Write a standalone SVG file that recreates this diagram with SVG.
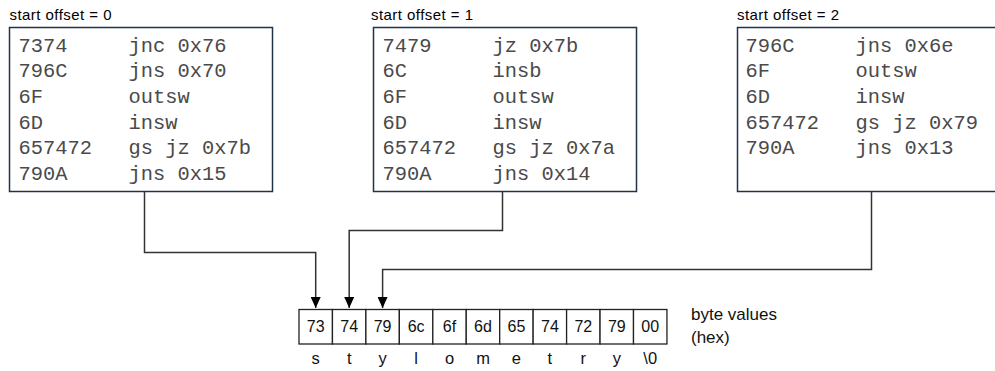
<svg xmlns="http://www.w3.org/2000/svg" width="995" height="371" viewBox="0 0 995 371">
  <style>
    .caption { font-family: "Liberation Sans", Arial, sans-serif; font-size: 15px; fill: #000; }
    .box { fill: #fff; stroke: #1f3547; stroke-width: 1.5; }
    .asm { font-family: "Liberation Mono", "Courier New", monospace; font-size: 20.4px; fill: #4a4a4a; }
    .cell { fill: #fff; stroke: #222; stroke-width: 1.3; }
    .hex { font-family: "Liberation Sans", Arial, sans-serif; font-size: 16px; fill: #111; text-anchor: middle; }
    .chr { font-family: "Liberation Sans", Arial, sans-serif; font-size: 16.5px; fill: #111; text-anchor: middle; }
    .note { font-family: "Liberation Sans", Arial, sans-serif; font-size: 17px; fill: #111; }
    .wire { fill: none; stroke: #333; stroke-width: 1.5; }
  </style>
  <defs>
    <marker id="arrow" markerUnits="userSpaceOnUse" markerWidth="11" markerHeight="10" refX="11" refY="5" orient="auto" viewBox="0 0 11 10">
      <path d="M0,0 L11,5 L0,10 Z" fill="#000"/>
    </marker>
  </defs>

  <!-- disassembly from offset 0 -->
  <g id="offset0">
    <text class="caption" x="9.5" y="20" textLength="102">start offset = 0</text>
    <rect class="box" x="9.5" y="27.5" width="263" height="164"/>
    <g class="asm">
      <text x="18.5" y="51.7">7374</text><text x="128.5" y="51.7">jnc 0x76</text>
      <text x="18.5" y="77.4">796C</text><text x="128.5" y="77.4">jns 0x70</text>
      <text x="18.5" y="103">6F</text><text x="128.5" y="103">outsw</text>
      <text x="18.5" y="128.7">6D</text><text x="128.5" y="128.7">insw</text>
      <text x="18.5" y="154.4">657472</text><text x="128.5" y="154.4">gs jz 0x7b</text>
      <text x="18.5" y="180">790A</text><text x="128.5" y="180">jns 0x15</text>
    </g>
  </g>

  <!-- disassembly from offset 1 -->
  <g id="offset1">
    <text class="caption" x="371" y="20" textLength="102">start offset = 1</text>
    <rect class="box" x="373.5" y="27.5" width="263" height="164"/>
    <g class="asm">
      <text x="382.5" y="51.7">7479</text><text x="492.5" y="51.7">jz 0x7b</text>
      <text x="382.5" y="77.4">6C</text><text x="492.5" y="77.4">insb</text>
      <text x="382.5" y="103">6F</text><text x="492.5" y="103">outsw</text>
      <text x="382.5" y="128.7">6D</text><text x="492.5" y="128.7">insw</text>
      <text x="382.5" y="154.4">657472</text><text x="492.5" y="154.4">gs jz 0x7a</text>
      <text x="382.5" y="180">790A</text><text x="492.5" y="180">jns 0x14</text>
    </g>
  </g>

  <!-- disassembly from offset 2 -->
  <g id="offset2">
    <text class="caption" x="737" y="20" textLength="102">start offset = 2</text>
    <rect class="box" x="737.5" y="27.5" width="270" height="164"/>
    <g class="asm">
      <text x="745.5" y="51.7">796C</text><text x="855.5" y="51.7">jns 0x6e</text>
      <text x="745.5" y="77.4">6F</text><text x="855.5" y="77.4">outsw</text>
      <text x="745.5" y="103">6D</text><text x="855.5" y="103">insw</text>
      <text x="745.5" y="128.7">657472</text><text x="855.5" y="128.7">gs jz 0x79</text>
      <text x="745.5" y="154.4">790A</text><text x="855.5" y="154.4">jns 0x13</text>
    </g>
  </g>

  <!-- byte string "stylometry\0" -->
  <g id="bytes">
    <g>
      <rect class="cell" x="299" y="309.5" width="33.45" height="34.5"/>
      <rect class="cell" x="332.45" y="309.5" width="33.45" height="34.5"/>
      <rect class="cell" x="365.9" y="309.5" width="33.45" height="34.5"/>
      <rect class="cell" x="399.35" y="309.5" width="33.45" height="34.5"/>
      <rect class="cell" x="432.8" y="309.5" width="33.45" height="34.5"/>
      <rect class="cell" x="466.25" y="309.5" width="33.45" height="34.5"/>
      <rect class="cell" x="499.7" y="309.5" width="33.45" height="34.5"/>
      <rect class="cell" x="533.15" y="309.5" width="33.45" height="34.5"/>
      <rect class="cell" x="566.6" y="309.5" width="33.45" height="34.5"/>
      <rect class="cell" x="600.05" y="309.5" width="33.45" height="34.5"/>
      <rect class="cell" x="633.5" y="309.5" width="33.45" height="34.5"/>
    </g>
    <g class="hex">
      <text x="315.7" y="332">73</text>
      <text x="349.2" y="332">74</text>
      <text x="382.6" y="332">79</text>
      <text x="416.1" y="332">6c</text>
      <text x="449.5" y="332">6f</text>
      <text x="483" y="332">6d</text>
      <text x="516.4" y="332">65</text>
      <text x="549.9" y="332">74</text>
      <text x="583.3" y="332">72</text>
      <text x="616.8" y="332">79</text>
      <text x="650.2" y="332">00</text>
    </g>
    <g class="chr">
      <text x="315.7" y="364">s</text>
      <text x="349.2" y="364">t</text>
      <text x="382.6" y="364">y</text>
      <text x="416.1" y="364">l</text>
      <text x="449.5" y="364">o</text>
      <text x="483" y="364">m</text>
      <text x="516.4" y="364">e</text>
      <text x="549.9" y="364">t</text>
      <text x="583.3" y="364">r</text>
      <text x="616.8" y="364">y</text>
      <text x="650.2" y="364">\0</text>
    </g>
    <text class="note" x="691" y="320">byte values</text>
    <text class="note" x="691" y="343">(hex)</text>
  </g>

  <!-- pointers from each start offset into the byte string -->
  <g id="connectors">
    <path class="wire" d="M144.5 191.5 V252.5 H315.7 V308" marker-end="url(#arrow)"/>
    <path class="wire" d="M502.5 191.5 V230.5 H349.2 V308" marker-end="url(#arrow)"/>
    <path class="wire" d="M871.5 191.5 V269.5 H382.6 V308" marker-end="url(#arrow)"/>
  </g>
</svg>
